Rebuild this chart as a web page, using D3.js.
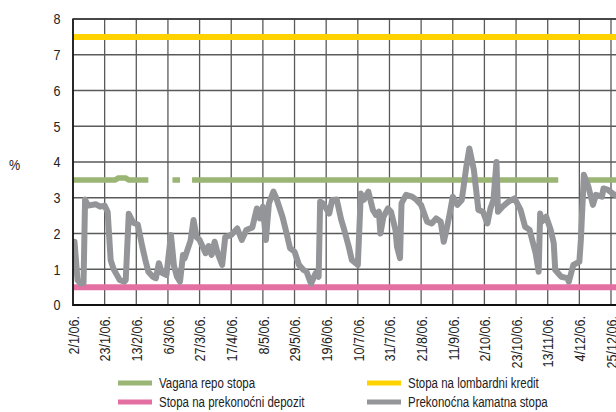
<!DOCTYPE html>
<html><head><meta charset="utf-8">
<script src="https://cdn.jsdelivr.net/npm/d3@7"></script>
<style>
body{margin:0;background:#fff;}
svg{display:block;font-family:"Liberation Sans",Arial,sans-serif;}
</style></head><body>
<svg id="chart" width="616" height="412"></svg>
<script>
// ---- data ----
const tickLabels = ["2/1/06.","23/1/06.","13/2/06.","6/3/06.","27/3/06.","17/4/06.","8/5/06.","29/5/06.","19/6/06.","10/7/06.","31/7/06.","21/8/06.","11/9/06.","2/10/06.","23/10/06.","13/11/06.","4/12/06.","25/12/06."];
const yTicks = [0,1,2,3,4,5,6,7,8];

const lombardDates = ["2/1","29/12"];
const lombardValues = [7.5,7.5];
const depositDates = ["2/1","29/12"];
const depositValues = [0.5,0.5];

const repoDates  = ["2/1","30/1","1/2","6/2","8/2","21/2","22/2","9/3","14/3","15/3","22/3","20/11","21/11","7/12","29/12"];
const repoValues = [3.5,3.5,3.55,3.55,3.5,3.5,null,3.5,3.5,null,3.5,3.5,null,3.5,3.5];

const onDates = ["3/1","5/1","7/1","9/1","10/1","12/1","17/1","20/1","23/1","25/1","27/1","29/1","31/1","2/2","5/2","6/2","8/2","11/2","14/2","17/2","19/2","21/2","24/2","26/2","28/2","2/3","5/3","8/3","10/3","12/3","14/3","16/3","17/3","19/3","21/3","23/3","25/3","27/3","31/3","2/4","4/4","6/4","8/4","11/4","13/4","17/4","21/4","24/4","27/4","1/5","4/5","6/5","8/5","10/5","12/5","15/5","17/5","21/5","24/5","26/5","29/5","1/6","4/6","6/6","8/6","9/6","12/6","14/6","15/6","17/6","21/6","23/6","26/6","29/6","1/7","4/7","6/7","10/7","12/7","14/7","17/7","20/7","22/7","24/7","25/7","27/7","30/7","1/8","4/8","5/8","7/8","8/8","11/8","15/8","18/8","21/8","25/8","28/8","31/8","3/9","5/9","7/9","9/9","11/9","14/9","17/9","20/9","22/9","25/9","28/9","1/10","4/10","6/10","8/10","10/10","11/10","14/10","18/10","22/10","26/10","29/10","1/11","5/11","7/11","8/11","9/11","12/11","15/11","17/11","18/11","22/11","26/11","27/11","30/11","4/12","5/12","7/12","10/12","13/12","15/12","19/12","20/12","23/12","26/12","29/12"];
const onValues = [1.77,0.7,0.6,0.62,2.95,2.78,2.82,2.75,2.78,2.6,1.25,1.0,0.85,0.7,0.65,0.7,2.55,2.3,2.25,1.63,1.26,0.93,0.79,0.75,1.17,0.9,0.84,1.96,1.1,0.79,0.65,1.4,1.3,1.55,1.8,2.38,1.9,1.82,1.45,1.65,1.4,1.77,1.45,1.12,1.9,1.96,2.14,1.82,2.1,2.17,2.7,2.42,2.75,1.82,2.84,3.17,2.98,2.47,1.96,1.59,1.49,1.12,0.98,0.93,0.7,0.6,0.89,0.79,2.89,2.84,2.56,2.94,2.95,2.38,2.1,1.63,1.26,1.12,3.12,2.94,3.17,2.66,2.52,2.61,2.0,2.47,2.7,2.61,2.1,1.63,1.31,2.84,3.08,3.03,2.94,2.8,2.33,2.28,2.42,2.33,1.77,2.14,2.56,3.03,2.8,2.94,3.87,4.38,3.78,2.66,2.61,2.28,2.7,2.94,4.0,2.61,2.75,2.89,2.98,2.66,2.19,2.1,1.45,0.93,2.56,2.33,2.47,2.1,1.73,0.98,0.79,0.75,0.65,1.12,1.21,1.82,3.64,3.31,2.8,3.08,3.03,3.26,3.22,3.12,3.05];

const legendLabels = ["Vagana repo stopa","Stopa na prekonoćni depozit","Stopa na lombardni kredit","Prekonoćna kamatna stopa"];
const seriesColors = {repo:"#9bb574", deposit:"#e46fa2", lombard:"#ffd200", on:"#939598"};
const legendColors = [seriesColors.repo, seriesColors.deposit, seriesColors.lombard, seriesColors.on];

// ---- helpers ----
const parseDM = s => { const [d,m] = s.split("/").map(Number); return new Date(2006, m-1, d); };
const zip = (ds, vs) => ds.map((d,i)=>({date:parseDM(d), v:vs[i]}));

const svg = d3.select("#chart");
const L = 73, R = 611, T = 19, B = 305;
const tickDates = tickLabels.map(parseDM);
const x = d3.scaleTime().domain([tickDates[0], tickDates[tickDates.length-1]]).range([L, R]);
const y = d3.scaleLinear().domain([0,8]).range([B, T]);
const NARROW = 0.84;

svg.append("defs").append("clipPath").attr("id","clip")
  .append("rect").attr("x",L).attr("y",0).attr("width",616-L).attr("height",B);

// gridlines
const grid = svg.append("g");
grid.selectAll("line.h").data(yTicks.filter(t=>t>0)).join("line")
  .attr("x1",L).attr("x2",616).attr("y1",d=>y(d)).attr("y2",d=>y(d))
  .attr("stroke","#5a5a5a").attr("stroke-width",1.3);
grid.selectAll("line.v").data(tickDates.slice(1)).join("line")
  .attr("x1",d=>x(d)).attr("x2",d=>x(d)).attr("y1",T).attr("y2",B)
  .attr("stroke","#5a5a5a").attr("stroke-width",1.3);

// series
const line = d3.line().defined(d=>d.v!=null).x(d=>x(d.date)).y(d=>y(d.v));
const plot = svg.append("g").attr("clip-path","url(#clip)");
plot.append("path").datum(zip(lombardDates,lombardValues)).attr("d",line)
  .attr("fill","none").attr("stroke",seriesColors.lombard).attr("stroke-width",6);
plot.append("path").datum(zip(depositDates,depositValues)).attr("d",line)
  .attr("fill","none").attr("stroke",seriesColors.deposit).attr("stroke-width",6);
plot.append("path").datum(zip(repoDates,repoValues)).attr("d",line)
  .attr("fill","none").attr("stroke",seriesColors.repo).attr("stroke-width",5.5);
plot.append("path").datum(zip(onDates,onValues)).attr("d",line)
  .attr("fill","none").attr("stroke",seriesColors.on).attr("stroke-width",6)
  .attr("stroke-linejoin","round").attr("stroke-linecap","round");

// axes
const yAxis = d3.axisLeft(y).tickValues(yTicks).tickSize(0).tickFormat(d3.format("d"));
const gy = svg.append("g").attr("transform",`translate(${L},0)`).call(yAxis);
gy.select(".domain").remove();
gy.selectAll("text").attr("font-size",15).attr("fill","#222")
  .attr("x",0).attr("text-anchor","end")
  .attr("transform",`translate(-12.5,0) scale(${NARROW},1)`);

const xAxis = d3.axisBottom(x).tickValues(tickDates).tickSize(0).tickFormat((d,i)=>tickLabels[i]);
const gx = svg.append("g").attr("transform",`translate(0,${B})`).call(xAxis);
gx.select(".domain").remove();
gx.selectAll("text").attr("font-size",15).attr("fill","#222")
  .attr("text-anchor","end").attr("dy","0.35em").attr("x",0).attr("y",0)
  .attr("transform",`translate(0,11) rotate(-90) scale(${NARROW},1)`);

svg.append("line").attr("x1",L).attr("x2",L).attr("y1",T-0.5).attr("y2",B+1).attr("stroke","#111").attr("stroke-width",1.8);
svg.append("line").attr("x1",L).attr("x2",616).attr("y1",B).attr("y2",B).attr("stroke","#111").attr("stroke-width",1.8);
svg.append("line").attr("x1",L).attr("x2",616).attr("y1",T).attr("y2",T).attr("stroke","#333").attr("stroke-width",1.5);

svg.append("text").attr("font-size",15).attr("fill","#222")
  .attr("transform",`translate(9,170) scale(${NARROW},1)`).text("%");

// legend
const lg = svg.append("g");
const legPos = [[118,383],[118,402],[367,383],[367,402]];
legendLabels.forEach((lab,i)=>{
  const [lx,ly] = legPos[i];
  lg.append("rect").attr("x",lx).attr("y",ly-2.5).attr("width",34).attr("height",5).attr("fill",legendColors[i]);
  lg.append("text").attr("font-size",14).attr("fill","#222")
    .attr("transform",`translate(${lx+41},${ly+5}) scale(0.82,1)`).text(lab);
});
</script>
</body></html>
